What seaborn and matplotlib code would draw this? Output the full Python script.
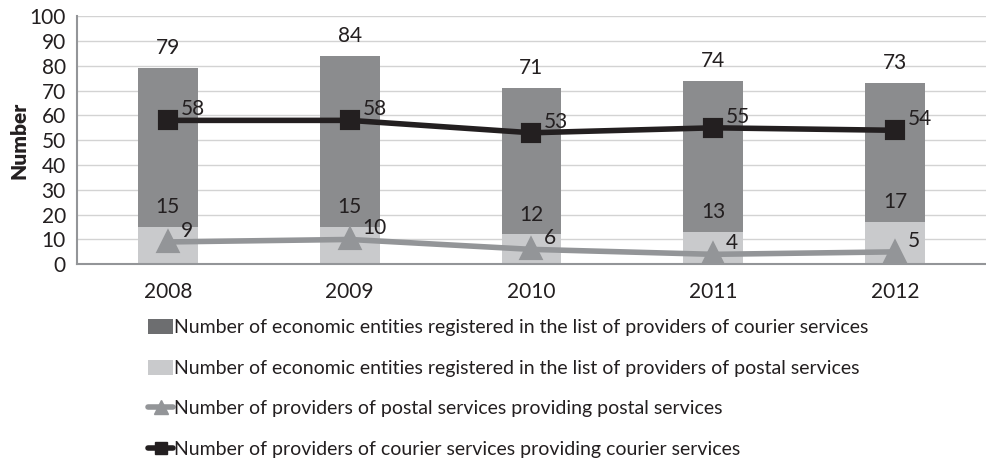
import numpy as np
import matplotlib
matplotlib.use("Agg")
import matplotlib.pyplot as plt
from matplotlib.lines import Line2D
from matplotlib.patches import Patch
import seaborn as sns

years = ["2008", "2009", "2010", "2011", "2012"]
courier_registered = [79, 84, 71, 74, 73]
postal_registered = [15, 15, 12, 13, 17]
postal_providing = [9, 10, 6, 4, 5]
courier_providing = [58, 58, 53, 55, 54]

labels = [
    "Number of economic entities registered in the list of providers of courier services",
    "Number of economic entities registered in the list of providers of postal services",
    "Number of providers of postal services providing postal services",
    "Number of providers of courier services providing courier services",
]

dark_bar = "#8b8c8e"
light_bar = "#c9cacc"
tri_col = "#939598"
sq_col = "#231f20"
txt = "#231f20"

sns.set_style("white")
plt.rcParams["font.family"] = ["Lato", "DejaVu Sans"]

fig = plt.figure(figsize=(9.87, 4.62), dpi=100)
ax = fig.add_axes([0.078, 0.428, 0.921, 0.537])

sns.barplot(x=years, y=courier_registered, color=dark_bar, width=0.33,
            saturation=1, linewidth=0, edgecolor="none", ax=ax, zorder=2)
sns.barplot(x=years, y=postal_registered, color=light_bar, width=0.33,
            saturation=1, linewidth=0, edgecolor="none", ax=ax, zorder=2)
sns.pointplot(x=years, y=postal_providing, color=tri_col, marker="^",
              markersize=13, linewidth=4, ax=ax, zorder=4)
sns.pointplot(x=years, y=courier_providing, color=sq_col, marker="s",
              markersize=11, linewidth=4, ax=ax, zorder=5)

fs = 15
for i in range(len(years)):
    ax.text(i, courier_registered[i] + 8, str(courier_registered[i]),
            ha="center", va="center", fontsize=fs, color=txt, zorder=6)
    ax.text(i, postal_registered[i] + 8, str(postal_registered[i]),
            ha="center", va="center", fontsize=fs, color=txt, zorder=6)
    ax.text(i + 0.07, postal_providing[i] + 0.5, str(postal_providing[i]),
            ha="left", va="bottom", fontsize=fs, color=txt, zorder=6)
    ax.text(i + 0.07, courier_providing[i] + 0.5, str(courier_providing[i]),
            ha="left", va="bottom", fontsize=fs, color=txt, zorder=6)

ax.set_ylim(0, 100)
ax.set_xlim(-0.5, 4.5)
ax.set_yticks(range(0, 101, 10))
ax.yaxis.grid(True, color="#d3d3d3", linewidth=1)
ax.set_axisbelow(True)
ax.set_ylabel("Number", fontsize=15, fontweight="heavy", color=txt, labelpad=1)

for s in ["top", "right"]:
    ax.spines[s].set_visible(False)
for s in ["left", "bottom"]:
    ax.spines[s].set_color("#939598")
    ax.spines[s].set_linewidth(1.5)

ax.tick_params(axis="y", labelsize=fs, colors="#939598", labelcolor=txt,
               length=5, width=1.5, pad=3)
ax.tick_params(axis="x", which="major", labelsize=fs, labelcolor=txt,
               length=0, pad=13)
ax.set_xticks(np.arange(0.5, 4.5, 1), minor=True)
ax.tick_params(axis="x", which="minor", length=5, width=1.5, colors="#939598")

handles = [
    Patch(facecolor="#6d6e70", edgecolor="none"),
    Patch(facecolor=light_bar, edgecolor="none"),
    Line2D([0], [0], color=tri_col, lw=4, marker="^", markersize=10),
    Line2D([0], [0], color=sq_col, lw=4, marker="s", markersize=8),
]
fig.legend(handles, labels, loc="upper left", bbox_to_anchor=(0.142, 0.326),
           frameon=False, fontsize=14.0, labelspacing=1.2, handlelength=1.3,
           handletextpad=0.05, handleheight=0.8, borderaxespad=0,
           labelcolor=txt)

fig.savefig("out.png", dpi=100)
